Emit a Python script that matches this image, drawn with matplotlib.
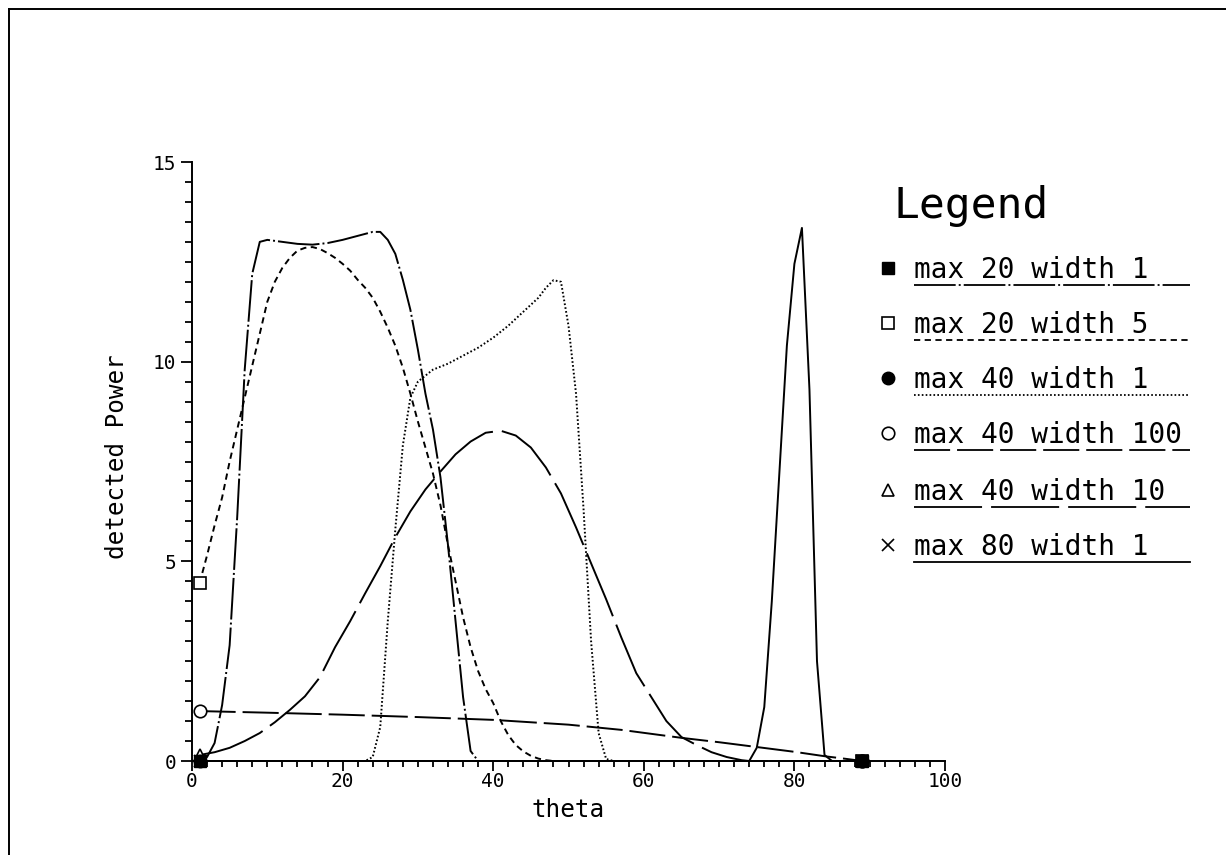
import matplotlib
matplotlib.use("Agg")
import matplotlib.pyplot as plt
from matplotlib.lines import Line2D

plt.rcParams['font.family'] = ['DejaVu Sans Mono']
plt.rcParams['lines.scale_dashes'] = False

W, H = 1226, 855

# ---------------- data ----------------
labels = ["max 20 width 1", "max 20 width 5", "max 40 width 1",
          "max 40 width 100", "max 40 width 10", "max 80 width 1"]

x_m20w1 = [1, 2, 3, 4, 5, 6, 7, 8, 9, 10, 12, 14, 16, 18, 20, 22, 24, 25, 26, 27,
           28, 29, 30, 31, 32, 33, 34, 35, 36, 37, 38, 89]
y_m20w1 = [0.0, 0.1, 0.45, 1.4, 2.9, 6.1, 9.8, 12.2, 13.0, 13.05, 13.0, 12.95, 12.93,
           12.97, 13.05, 13.15, 13.25, 13.25, 13.05, 12.7, 12.05, 11.3, 10.3, 9.2,
           8.3, 7.1, 5.4, 3.5, 1.6, 0.25, 0.0, 0.0]

x_m20w5 = [1, 2, 3, 4, 5, 6, 7, 8, 9, 10, 11, 12, 13, 14, 15, 16, 17, 18, 19, 20,
           21, 22, 23, 24, 25, 26, 27, 28, 29, 30, 31, 32, 33, 34, 35, 36, 37, 38,
           39, 40, 41, 42, 43, 44, 45, 46, 47, 48, 89]
y_m20w5 = [4.45, 5.15, 5.9, 6.6, 7.5, 8.3, 9.1, 9.9, 10.7, 11.5, 12.0, 12.35, 12.6,
           12.78, 12.85, 12.87, 12.82, 12.72, 12.6, 12.45, 12.28, 12.05, 11.85, 11.6,
           11.25, 10.85, 10.4, 9.85, 9.2, 8.5, 7.85, 7.2, 6.4, 5.4, 4.5, 3.6, 2.85,
           2.25, 1.8, 1.45, 1.0, 0.65, 0.4, 0.24, 0.13, 0.06, 0.02, 0.0, 0.0]

x_m40w1 = [1, 23, 24, 25, 26, 27, 28, 29, 30, 31, 32, 34, 36, 38, 40, 42, 44, 46,
           47, 48, 49, 50, 51, 52, 53, 54, 55, 56, 89]
y_m40w1 = [0.0, 0.0, 0.1, 0.85, 3.5, 5.8, 7.9, 9.1, 9.5, 9.65, 9.8, 9.95, 10.15,
           10.35, 10.6, 10.9, 11.25, 11.6, 11.85, 12.04, 12.0, 10.9, 9.2, 6.3, 3.0,
           0.7, 0.05, 0.0, 0.0]

x_m40w100 = [1, 10, 20, 30, 40, 50, 57, 65, 70, 75, 80, 84, 87, 89]
y_m40w100 = [1.25, 1.21, 1.16, 1.1, 1.03, 0.91, 0.78, 0.58, 0.47, 0.35, 0.23, 0.12,
             0.05, 0.0]

x_m40w10 = [1, 3, 5, 7, 9, 11, 13, 15, 17, 19, 21, 23, 25, 27, 29, 31, 33, 35, 37,
            39, 41, 43, 45, 47, 49, 51, 53, 55, 57, 59, 61, 63, 65, 67, 69, 71, 73,
            74, 89]
y_m40w10 = [0.15, 0.22, 0.33, 0.5, 0.7, 0.97, 1.28, 1.62, 2.1, 2.85, 3.5, 4.2, 4.88,
            5.6, 6.25, 6.8, 7.25, 7.68, 8.0, 8.22, 8.27, 8.15, 7.85, 7.35, 6.7, 5.85,
            4.95, 4.05, 3.1, 2.2, 1.6, 1.0, 0.6, 0.4, 0.22, 0.1, 0.02, 0.0, 0.0]

x_m80w1 = [1, 74, 75, 76, 77, 78, 79, 80, 81, 82, 83, 84, 85, 89]
y_m80w1 = [0.0, 0.0, 0.33, 1.35, 4.0, 7.2, 10.4, 12.45, 13.35, 9.3, 2.5, 0.15, 0.0, 0.0]

xs = [x_m20w1, x_m20w5, x_m40w1, x_m40w100, x_m40w10, x_m80w1]
ys = [y_m20w1, y_m20w5, y_m40w1, y_m40w100, y_m40w10, y_m80w1]

# ---------------- styles ----------------
LW = 1.4
styles = [
    dict(dashes=(30, 2.2, 1.4, 2.2), marker='s', ms=9, mfc='black', mec='black'),
    dict(dashes=(4.5, 3.2), marker='s', ms=9, mfc='white', mec='black', mew=1.2),
    dict(dashes=(1.2, 1.6), marker='o', ms=9, mfc='black', mec='black'),
    dict(dashes=(26, 5), marker='o', ms=9, mfc='white', mec='black', mew=1.2),
    dict(dashes=(49, 6.5), marker='^', ms=8.5, mfc='white', mec='black', mew=1.2),
    dict(linestyle='-', marker='x', ms=8, mec='black', mew=1.2),
]
zorders = [6, 3, 5, 3, 3, 4]

fig = plt.figure(figsize=(W / 100, H / 100), dpi=100)
ax = fig.add_axes([192 / W, 1 - 761 / H, (945 - 192) / W, (761 - 162) / H])

for x, y, st, z in zip(xs, ys, styles, zorders):
    ax.plot(x, y, color='black', lw=LW, markevery=[0, len(x) - 1],
            clip_on=False, zorder=z, **st)

ax.set_xlim(0, 100)
ax.set_ylim(0, 15)
for s in ['top', 'right']:
    ax.spines[s].set_visible(False)
for s in ['left', 'bottom']:
    ax.spines[s].set_linewidth(1.4)

ax.set_xticks([0, 20, 40, 60, 80, 100])
ax.set_xticks(list(range(0, 101, 2)), minor=True)
ax.set_yticks([0, 5, 10, 15])
ax.set_yticks([i * 0.5 for i in range(31)], minor=True)
ax.set_yticklabels(['0', '5', '10', '15'])
ax.tick_params(axis='x', which='major', length=7.5, width=1.3, labelsize=14, pad=0.5)
ax.tick_params(axis='x', which='minor', length=4.5, width=1.3)
ax.tick_params(axis='y', which='major', length=8, width=1.3, labelsize=14, pad=3.5)
ax.tick_params(axis='y', which='minor', length=5, width=1.3)

fig.text(117 / W, 1 - 457 / H, 'detected Power', rotation=90, ha='center',
         va='center', fontsize=17.5)
fig.text(568 / W, 1 - 817 / H, 'theta', ha='center', va='baseline', fontsize=17.5)

# ---------------- legend ----------------
fig.text(893 / W, 1 - 218 / H, 'Legend', ha='left', va='baseline', fontsize=31)
row_y = [268, 323, 378, 433, 490, 545]
for i, (lab, st) in enumerate(zip(labels, styles)):
    yc = row_y[i]
    mst = {k: v for k, v in st.items() if k in ('marker', 'mfc', 'mec', 'mew')}
    fig.add_artist(Line2D([888 / W], [1 - yc / H], transform=fig.transFigure,
                          linestyle='none', ms=st['ms'], color='black', **mst))
    fig.text(914 / W, 1 - (yc + 10) / H, lab, ha='left', va='baseline', fontsize=20)
    lst = {k: v for k, v in st.items() if k in ('dashes', 'linestyle')}
    fig.add_artist(Line2D([914 / W, 1190 / W], [1 - (yc + 17) / H] * 2,
                          transform=fig.transFigure, color='black', lw=1.3, **lst))

# ---------------- border ----------------
fig.add_artist(Line2D([9 / W, 1], [1 - 9 / H] * 2, transform=fig.transFigure,
                      color='black', lw=1.4))
fig.add_artist(Line2D([9 / W, 9 / W], [0, 1 - 9 / H], transform=fig.transFigure,
                      color='black', lw=1.4))

fig.savefig('out.png', dpi=100)
